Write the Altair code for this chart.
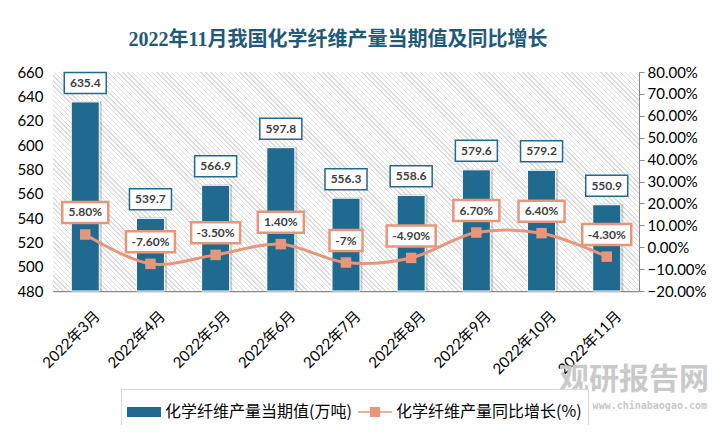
import altair as alt
import pandas as pd

# ---- data ----
months = ["2022年3月", "2022年4月", "2022年5月", "2022年6月", "2022年7月",
          "2022年8月", "2022年9月", "2022年10月", "2022年11月"]
output = [635.4, 539.7, 566.9, 597.8, 556.3, 558.6, 579.6, 579.2, 550.9]
growth = [5.8, -7.6, -3.5, 1.4, -7.0, -4.9, 6.7, 6.4, -4.3]
growth_labels = ["5.80%", "-7.60%", "-3.50%", "1.40%", "-7%",
                 "-4.90%", "6.70%", "6.40%", "-4.30%"]
series_names = ["化学纤维产量当期值(万吨)", "化学纤维产量同比增长(%)"]
left_ticks = [480, 500, 520, 540, 560, 580, 600, 620, 640, 660]
right_ticks = [-20, -10, 0, 10, 20, 30, 40, 50, 60, 70, 80]

df = pd.DataFrame({
    "month": months,
    "output": output,
    "growth": growth,
    "glabel": growth_labels,
    "vlabel": [f"{v:.1f}" for v in output],
})

W, H = 586, 219
BAR = "#1f6a8e"
ORANGE = "#e8967a"
FONT = "Lato, Noto Sans CJK SC"
CJK = "Noto Sans CJK SC"

# hatched plot background via a striped linear gradient
n_per = 165
frac = 0.28
stops = []
for i in range(n_per):
    t0 = i / n_per
    t1 = (i + frac) / n_per
    t2 = (i + 1) / n_per
    stops += [{"offset": t0, "color": "#dcdcdc"}, {"offset": t1, "color": "#dcdcdc"},
              {"offset": t1, "color": "#ffffff"}, {"offset": t2, "color": "#ffffff"}]
hatch = {"gradient": "linear", "x1": 0, "y1": 1, "x2": 1.2053, "y2": 0.5496, "stops": stops}

bg = alt.Chart(alt.Data(values=[{"a": 1}])).mark_rect(fill=hatch).encode(
    x=alt.value(0), x2=alt.value("width"), y=alt.value(0), y2=alt.value("height")
)

xenc = alt.X("month:N", sort=months, title=None,
             scale=alt.Scale(paddingInner=0.57, paddingOuter=0.28),
             axis=alt.Axis(labelAngle=-45, labelAlign="right", labelBaseline="middle",
                           labelFont=FONT, labelFontSize=15, labelColor="#000000",
                           ticks=False, domainColor="#898989", domainWidth=1.5,
                           labelPadding=22, labelOffset=12))

yleft = alt.Y("output:Q", title=None,
              scale=alt.Scale(domain=[480, 660], zero=False, nice=False),
              axis=alt.Axis(values=left_ticks, domain=False, ticks=False, grid=False,
                            labelFont=FONT, labelFontSize=15, labelColor="#000000",
                            labelPadding=10))

shadow = alt.Chart(df).mark_bar(color="#000000", opacity=0.18, xOffset=2.5, yOffset=-1).encode(
    x=xenc, y=yleft, y2=alt.datum(480)
)
bars = alt.Chart(df).mark_bar(color=BAR, stroke="white", strokeWidth=1).encode(
    x=xenc, y=yleft, y2=alt.datum(480)
)
vbox = alt.Chart(df).mark_rect(width=42, height=21, yOffset=-19, fill="white",
                               stroke=BAR, strokeWidth=1.5).encode(x=xenc, y=yleft)
vtext = alt.Chart(df).mark_text(yOffset=-19, font=FONT, fontSize=12, fontWeight="bold",
                                color="#404040", baseline="middle").encode(
    x=xenc, y=yleft, text="vlabel:N")
left = alt.layer(shadow, bars, vbox, vtext)

yright = alt.Y("growth:Q", title=None,
               scale=alt.Scale(domain=[-20, 80], nice=False, zero=False),
               axis=alt.Axis(orient="right", values=right_ticks, grid=False,
                             labelExpr="format(datum.value/100, '.2%')",
                             domainColor="#898989", tickColor="#898989", tickSize=5,
                             labelFont=FONT, labelFontSize=15, labelColor="#000000",
                             labelPadding=3))

line = alt.Chart(df).mark_line(color=ORANGE, strokeWidth=3, interpolate="catmull-rom").encode(
    x=xenc, y=yright)
pts = alt.Chart(df).mark_point(shape="square", filled=True, size=110, opacity=1,
                               color=ORANGE).encode(x=xenc, y=yright)

pboxes = []
for n, w in [(5, 46), (6, 49), (3, 33)]:
    pboxes.append(
        alt.Chart(df).transform_filter(f"length(datum.glabel) == {n}")
        .mark_rect(width=w, height=21, yOffset=-22, fill="white", stroke=ORANGE, strokeWidth=2.5)
        .encode(x=xenc, y=yright)
    )
ptext = alt.Chart(df).mark_text(yOffset=-22, font=FONT, fontSize=12, fontWeight="bold",
                                color="#404040", baseline="middle").encode(
    x=xenc, y=yright, text="glabel:N")

leg_opts = dict(title=None, orient="none", legendX=68, legendY=317,
                direction="horizontal", symbolSize=1156, symbolOpacity=1,
                symbolStrokeWidth=0, labelFont=CJK, labelFontSize=16,
                labelColor="#000000", labelLimit=400,
                strokeColor="#d9d9d9", fillColor="white", padding=6,
                columnPadding=6, symbolOffset=0)
leg_df = pd.DataFrame({"series": series_names})
legend_layer = alt.Chart(leg_df).mark_point(filled=True, size=0, opacity=1).encode(
    color=alt.Color("series:N", scale=alt.Scale(domain=series_names, range=[BAR, ORANGE]),
                    legend=alt.Legend(**leg_opts)),
    shape=alt.Shape("series:N", scale=alt.Scale(
        domain=series_names,
        range=["M-1,-0.3H1V0.3H-1Z",
               "M-1,-0.05H1V0.05H-1Z M-0.3,-0.3H0.3V0.3H-0.3Z"]),
        legend=alt.Legend(**leg_opts)),
)

wm1 = alt.Chart(alt.Data(values=[{"t": "观研报告网"}])).mark_text(
    font=CJK, fontSize=30, fontWeight="bold", color="#c9c9c9", align="center", baseline="middle"
).encode(x=alt.value(581), y=alt.value(308), text="t:N")
wm2 = alt.Chart(alt.Data(values=[{"t": "www.chinabaogao.com"}])).mark_text(
    font="DejaVu Sans Mono", fontSize=10, fontWeight="bold", color="#c9c9c9",
    align="right", baseline="middle"
).encode(x=alt.value(654), y=alt.value(334), text="t:N")

right = alt.layer(line, pts, *pboxes, ptext)

chart = alt.layer(bg, wm1, wm2, left, right, legend_layer).resolve_scale(
    y="independent"
).properties(
    width=W, height=H,
    autosize=alt.AutoSizeParams(type="none"),
    padding={"left": 45, "top": 64, "right": 75, "bottom": 134},
    title=alt.TitleParams("2022年11月我国化学纤维产量当期值及同比增长",
                          font="Liberation Serif, Noto Sans CJK SC", fontSize=20,
                          fontWeight="bold", color="#1f5a78", anchor="middle",
                          frame="group", offset=15, dx=-8),
).configure_view(stroke=None).configure(background="white")

chart.save("out.html", embed_options={"renderer": "svg", "actions": False})
